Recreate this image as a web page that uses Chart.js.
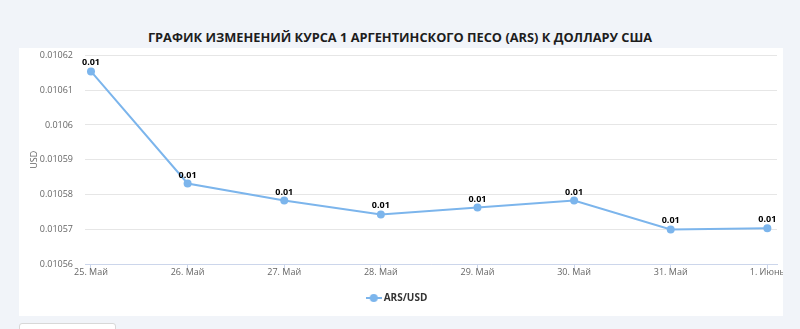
<!DOCTYPE html>
<html>
<head>
<meta charset="utf-8">
<script src="https://cdn.jsdelivr.net/npm/chart.js@4"></script>
<style>
  html, body { margin: 0; padding: 0; }
  body {
    width: 800px; height: 329px; overflow: hidden;
    background: #f1f4f9;
    font-family: "Open Sans", sans-serif;
    position: relative;
  }
  h2 {
    position: absolute; left: 0; top: 27px; width: 800px; margin: 0;
    text-align: center; font-size: 12.8px; font-weight: 700; color: #1d1d1d;
    line-height: 20px;
  }
  .panel {
    position: absolute; left: 19px; top: 48px; width: 764px; height: 268px;
    background: #fff;
  }
  .btn {
    position: absolute; left: 19px; top: 323px; width: 95px; height: 20px;
    background: #fff; border: 1px solid #d8d8d8; border-radius: 3px;
  }
</style>
</head>
<body>
<h2>ГРАФИК ИЗМЕНЕНИЙ КУРСА 1 АРГЕНТИНСКОГО ПЕСО (ARS) К ДОЛЛАРУ США</h2>
<div class="panel"><canvas id="chart" width="764" height="268"></canvas></div>
<div class="btn"></div>
<script>
const dates = ['25. Май', '26. Май', '27. Май', '28. Май', '29. Май', '30. Май', '31. Май', '1. Июнь'];
const rates = [0.0106154, 0.0105832, 0.0105783, 0.0105743, 0.0105763, 0.0105783, 0.0105700, 0.0105703];
const yTicks = [0.01056, 0.01057, 0.01058, 0.01059, 0.0106, 0.01061, 0.01062];

const lineColor = '#7cb5ec';

// legend symbol: short line with a dot
function legendSymbol() {
  const c = document.createElement('canvas');
  c.width = 16; c.height = 10;
  const g = c.getContext('2d');
  g.strokeStyle = lineColor; g.lineWidth = 2;
  g.beginPath(); g.moveTo(0, 5); g.lineTo(16, 5); g.stroke();
  g.fillStyle = lineColor;
  g.beginPath(); g.arc(8, 5, 4, 0, Math.PI * 2); g.fill();
  return c;
}

// "0.01" labels above each point
const valueLabels = {
  id: 'valueLabels',
  afterDatasetsDraw(chart) {
    const ctx = chart.ctx;
    const meta = chart.getDatasetMeta(0);
    ctx.save();
    ctx.font = 'bold 9px "Open Sans", sans-serif';
    ctx.fillStyle = '#000';
    ctx.textAlign = 'center';
    ctx.textBaseline = 'bottom';
    meta.data.forEach((pt, i) => {
      ctx.fillText(rates[i].toFixed(2), pt.x, pt.y - 4);
    });
    ctx.restore();
  }
};

new Chart(document.getElementById('chart'), {
  type: 'line',
  data: {
    datasets: [{
      label: 'ARS/USD',
      data: rates.map((v, i) => ({ x: i, y: v })),
      borderColor: lineColor,
      backgroundColor: lineColor,
      borderWidth: 2,
      pointRadius: 4,
      pointHoverRadius: 4,
      pointBackgroundColor: lineColor,
      pointBorderWidth: 0,
      tension: 0
    }]
  },
  options: {
    responsive: false,
    animation: false,
    events: [],
    layout: { padding: { left: 0, right: 6, top: 0, bottom: 3 } },
    elements: { point: { pointStyle: 'circle' } },
    plugins: {
      tooltip: { enabled: false },
      legend: {
        position: 'bottom',
        labels: {
          usePointStyle: true,
          color: '#333',
          font: { family: '"Open Sans", sans-serif', size: 10, weight: 'bold' },
          padding: 14,
          generateLabels(chart) {
            return [{ text: 'ARS/USD', pointStyle: legendSymbol(), datasetIndex: 0, fontColor: '#333', lineWidth: 0 }];
          }
        }
      }
    },
    scales: {
      x: {
        type: 'linear',
        min: -0.062,
        max: 7.1,
        afterBuildTicks(scale) {
          scale.ticks = dates.map((d, i) => ({ value: i }));
        },
        afterFit(scale) { scale.height += 3; },
        grid: { drawOnChartArea: false, drawTicks: true, tickLength: 5, tickColor: '#ccd6eb' },
        border: { color: '#ccd6eb' },
        ticks: {
          autoSkip: false,
          maxRotation: 0,
          padding: -2,
          color: '#666',
          font: { family: '"Open Sans", sans-serif', size: 9 },
          callback: (v) => dates[v]
        }
      },
      y: {
        min: 0.01056,
        max: 0.01062,
        afterBuildTicks(scale) {
          scale.ticks = yTicks.map(v => ({ value: v }));
        },
        afterFit(scale) { scale.width = 66; },
        grid: { color: '#e6e6e6', drawTicks: true, tickLength: 10, tickColor: 'rgba(0,0,0,0)' },
        border: { display: false },
        title: {
          display: true,
          text: 'USD',
          color: '#666',
          font: { family: '"Open Sans", sans-serif', size: 9 },
          padding: { top: 10, bottom: 0 }
        },
        ticks: {
          padding: 2,
          color: '#666',
          font: { family: '"Open Sans", sans-serif', size: 9 },
          callback: (v) => String(v)
        }
      }
    }
  },
  plugins: [valueLabels]
});
</script>
</body>
</html>
